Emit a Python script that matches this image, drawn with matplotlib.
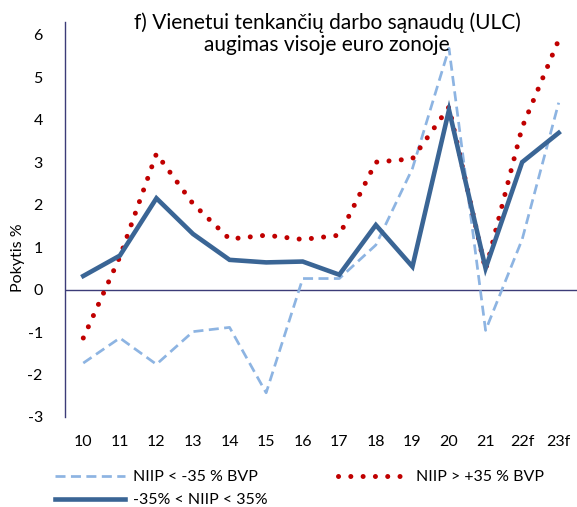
import matplotlib
matplotlib.use("Agg")
import matplotlib.pyplot as plt

plt.rcParams['font.family'] = ['Lato', 'DejaVu Sans']

categories = ["10", "11", "12", "13", "14", "15", "16", "17", "18", "19", "20", "21", "22f", "23f"]
niip_low = [-1.73, -1.14, -1.76, -0.99, -0.89, -2.43, 0.26, 0.26, 1.05, 2.85, 5.68, -0.96, 1.18, 4.4]
niip_high = [-1.14, 0.77, 3.2, 2.02, 1.19, 1.28, 1.18, 1.28, 3.0, 3.08, 4.3, 0.46, 3.82, 5.88]
niip_mid = [0.32, 0.8, 2.15, 1.31, 0.7, 0.64, 0.66, 0.35, 1.52, 0.54, 4.23, 0.5, 3.0, 3.69]
labels = ["NIIP < -35 % BVP", "NIIP > +35 % BVP", "-35% < NIIP < 35%"]
title = "f) Vienetui tenkančių darbo sąnaudų (ULC)\naugimas visoje euro zonoje"
ylabel = "Pokytis %"

W, H = 577, 507
fig = plt.figure(figsize=(W / 100, H / 100), dpi=100)
ax = fig.add_axes([65 / W, (H - 417) / H, 512 / W, (417 - 22) / H])

x = list(range(len(categories)))
l1, = ax.plot(x, niip_low, color="#8DB4E2", lw=1.95, linestyle=(0, (3.7, 2.0)), zorder=3)
l2, = ax.plot(x, niip_high, color="#C00000", lw=3.6, linestyle=(0, (0.01, 2.45)),
              dash_capstyle='round', zorder=4)
l3, = ax.plot(x, niip_mid, color="#3A6595", lw=3.3, solid_joinstyle='miter', zorder=5)

ax.set_xlim(-0.5, 13.5)
ax.set_ylim(-3, 6.3)
ax.set_yticks(range(-3, 7))
ax.set_yticklabels([str(v) for v in range(-3, 7)], fontsize=11.5)
ax.set_xticks(x)
ax.set_xticklabels(categories, fontsize=11.5)
ax.tick_params(axis='both', length=0)
ax.tick_params(axis='y', pad=16)
ax.tick_params(axis='x', pad=13)

for s in ['top', 'right', 'bottom']:
    ax.spines[s].set_visible(False)
ax.spines['left'].set_color("#3C3C78")
ax.spines['left'].set_linewidth(1.0)
ax.axhline(0, color="#3C3C78", lw=1.0, zorder=2)

fig.text(18 / W, 1 - 258 / H, ylabel, rotation=90, ha='center', va='center', fontsize=11.5)

fig.text(327 / W, 1 - 12 / H, title, ha='center', va='top', fontsize=15, linespacing=1.15)

fig.legend([l1, l3, l2], [labels[0], labels[2], labels[1]], ncol=2, frameon=False,
           loc='upper left', bbox_to_anchor=(47 / W, 1 - 462 / H), borderpad=0,
           handlelength=4.4, handletextpad=0.5, columnspacing=4.4, labelspacing=0.55,
           fontsize=11.5)

fig.savefig("out.png", dpi=100)
